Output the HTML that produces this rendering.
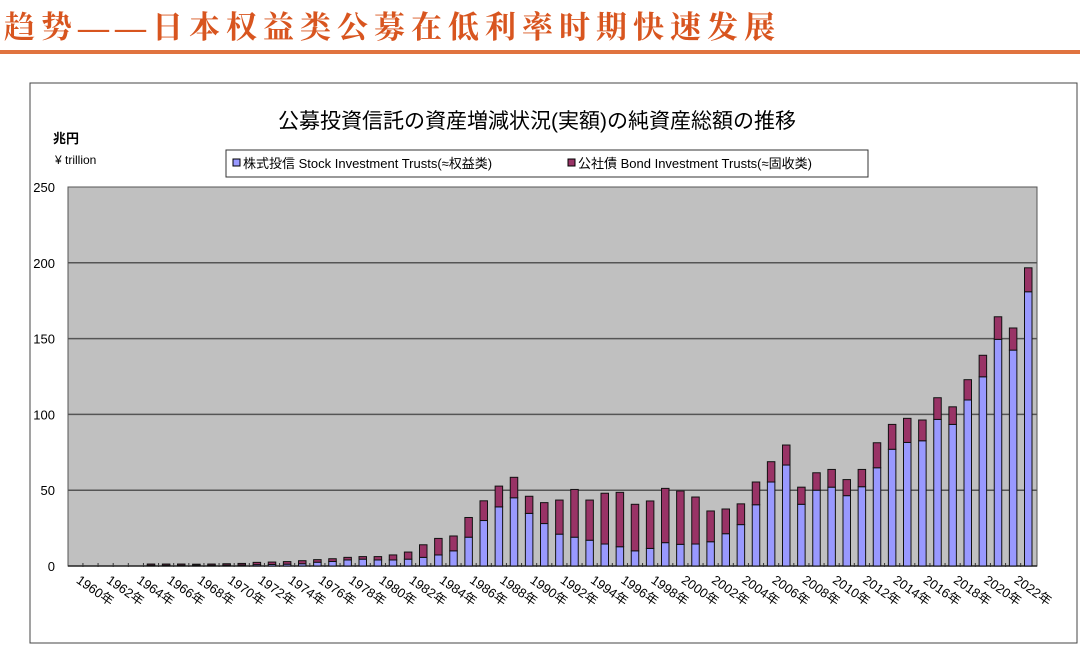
<!DOCTYPE html>
<html><head><meta charset="utf-8">
<style>
html,body{margin:0;padding:0;background:#fff;}
body{width:1080px;height:648px;overflow:hidden;position:relative;font-family:"Liberation Sans","Noto Sans CJK JP",sans-serif;}
#page-title{position:absolute;left:4px;top:2px;font-family:"Liberation Serif","Noto Serif CJK SC",serif;font-size:31px;font-weight:bold;color:#d8551f;letter-spacing:6px;white-space:nowrap;}
#title-rule{position:absolute;left:0;top:50px;width:1080px;height:4px;background:#e0733f;}
svg{position:absolute;left:0;top:0;}
</style></head><body>
<div id="page-title">趋势——日本权益类公募在低利率时期快速发展</div>
<div id="title-rule"></div>
<svg id="chart" width="1080" height="648">
  <rect x="30" y="83" width="1047" height="560" fill="#fff" stroke="#444" stroke-width="1"/>
  <text x="537" y="128" text-anchor="middle" font-size="21" fill="#000" font-family="Liberation Sans, Noto Sans CJK JP, sans-serif">公募投資信託の資産増減状況(実額)の純資産総額の推移</text>
  <text x="66" y="143" text-anchor="middle" font-size="13" font-weight="bold" fill="#000" font-family="Liberation Sans, Noto Sans CJK JP, sans-serif">兆円</text>
  <text x="55" y="164" font-size="12" fill="#000">¥ trillion</text>
  <g>
    <rect x="226" y="150" width="642" height="27" fill="#fff" stroke="#333" stroke-width="1"/>
    <rect x="233" y="159" width="7" height="7" fill="#9999ff" stroke="#000" stroke-width="1"/>
    <text x="243" y="168" font-size="13" fill="#000" font-family="Liberation Sans, Noto Sans CJK JP, sans-serif">株式投信 Stock Investment Trusts(≈权益类)</text>
    <rect x="568" y="159" width="7" height="7" fill="#993366" stroke="#000" stroke-width="1"/>
    <text x="578" y="168" font-size="13" fill="#000" font-family="Liberation Sans, Noto Sans CJK JP, sans-serif">公社債 Bond Investment Trusts(≈固收类)</text>
  </g>
  <g id="plot"></g>
</svg>
<script>
const years = [];
for (let y = 1960; y <= 2022; y++) years.push(y);
const totalValues = [0,0,0,0,1.3,1.3,1.3,1.2,1.3,1.5,1.7,2.4,2.6,2.9,3.5,4.2,4.8,5.7,6.2,6.2,7.3,9.2,14,18.2,19.8,32,43,52.7,58.5,46,41.8,43.5,50.5,43.5,48,48.6,40.7,42.9,51.2,49.5,45.5,36.3,37.6,41,55.4,68.8,79.8,52,61.5,63.7,57,63.7,81.3,93.4,97.4,96.3,111,105,122.9,139,164.4,157,196.7];
const stockValues = [0,0,0,0,0.5,0.5,0.5,0.5,0.5,0.6,0.7,0.9,1,1.2,1.5,2.5,3,4,4.5,4,4,4.5,5.7,7.3,10,19,30,39,45,34.7,28,21,19,17,14.5,12.7,10,11.6,15.4,14.3,14.5,16,21.3,27.3,40.4,55.4,66.6,40.7,50,52,46.4,52.3,64.8,77,81.5,82.6,96.7,93.4,109.5,124.8,149.5,142.4,180.9];
const bondValues = totalValues.map((t, i) => Math.max(0, t - stockValues[i]));
const yTicks = [0,50,100,150,200,250];

const NS = "http://www.w3.org/2000/svg";
const plotL = 68, plotR = 1037, plotT = 187, plotB = 566, yMax = 250;
const slot = 15.125, firstCenter = 90.5, barW = 7.5;
const yScale = v => plotB - v / yMax * (plotB - plotT);
const xScale = i => firstCenter + i * slot;
const g = document.getElementById('plot');
function mk(tag, attrs) { const e = document.createElementNS(NS, tag); for (const k in attrs) e.setAttribute(k, attrs[k]); g.appendChild(e); return e; }

const bg = mk('rect', {x: plotL, y: plotT, width: plotR - plotL, height: plotB - plotT, fill: '#c0c0c0', stroke: '#555', 'stroke-width': 1});



yTicks.forEach(t => {
  const y = yScale(t);
  if (t > 0 && t < yMax) {
    const l = mk('line', {x1: plotL, x2: plotR, y1: y, y2: y, stroke: '#555', 'stroke-width': 1.5});
    
    
  }
  const tx = mk('text', {x: 55, y: y + 5, 'text-anchor': 'end', 'font-size': 13, fill: '#000'});
  tx.textContent = t;
  
  
});

const axis = mk('line', {x1: plotL, x2: plotR, y1: plotB, y2: plotB, stroke: '#222', 'stroke-width': 1.5});



years.forEach((yr, i) => {
  const cx = xScale(i);
  const tk = mk('line', {x1: cx - slot / 2, x2: cx - slot / 2, y1: plotB - 3, y2: plotB + 1, stroke: '#333', 'stroke-width': 1});
  
  
  if (totalValues[i] > 0) {
    const s = stockValues[i], b = bondValues[i];
    const r1 = mk('rect', {x: cx - barW / 2, y: yScale(s), width: barW, height: plotB - yScale(s), fill: '#9999ff', stroke: '#111', 'stroke-width': 1});
    
    
    const r2 = mk('rect', {x: cx - barW / 2, y: yScale(s + b), width: barW, height: yScale(s) - yScale(s + b), fill: '#993366', stroke: '#111', 'stroke-width': 1});
    
    
  }
  if (yr % 2 === 0) {
    const lx = cx - 15, ly = 582;
    const t = mk('text', {x: lx, y: ly, 'font-size': 13, fill: '#000', transform: 'rotate(35 ' + lx + ' ' + ly + ')', 'font-family': 'Liberation Sans, Noto Sans CJK JP, sans-serif'});
    t.textContent = yr + '年';
    
    
  }
});
</script>
</body></html>
